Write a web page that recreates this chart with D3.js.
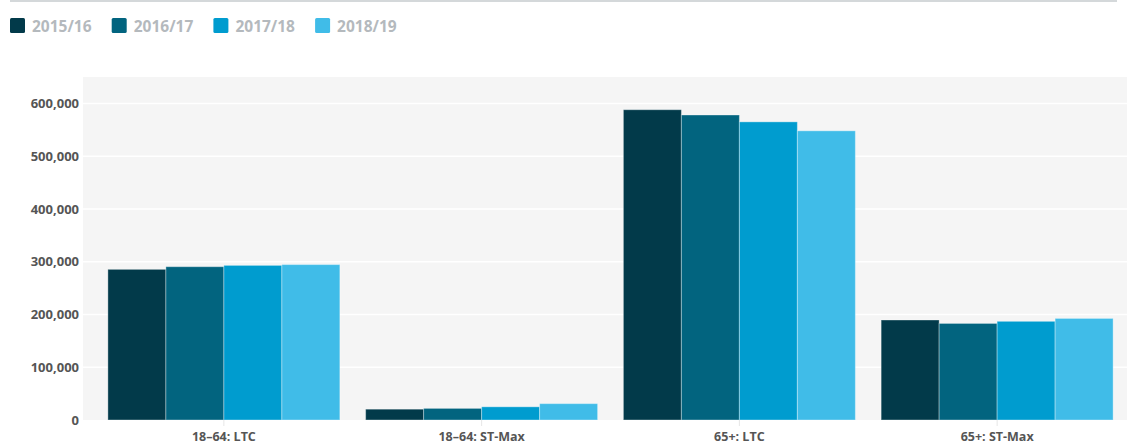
<!DOCTYPE html>
<html>
<head>
<meta charset="utf-8">
<script src="https://cdn.jsdelivr.net/npm/d3@7"></script>
<style>
  html, body { margin: 0; padding: 0; background: #fff; }
  svg { display: block; font-family: "Open Sans", sans-serif; }
</style>
</head>
<body>
<svg id="chart" width="1127" height="446"></svg>
<script>
const categories = ["18–64: LTC", "18–64: ST-Max", "65+: LTC", "65+: ST-Max"];
const seriesNames = ["2015/16", "2016/17", "2017/18", "2018/19"];
const colors = ["#023a4a", "#02647f", "#009ccf", "#40bce8"];
const v2015 = [285500, 20500, 588000, 189500];
const v2016 = [290500, 22000, 578000, 183000];
const v2017 = [293000, 25000, 565000, 187000];
const v2018 = [294500, 31000, 548000, 192500];
const yTicks = [0, 100000, 200000, 300000, 400000, 500000, 600000];

const seriesValues = [v2015, v2016, v2017, v2018];
const svg = d3.select("#chart");

const plotLeft = 83, plotRight = 1127, plotTop = 77, plotBottom = 420;

const x0 = d3.scaleBand().domain(categories).range([95, 1126]).paddingInner(0.1).paddingOuter(0.05);
const x1 = d3.scaleBand().domain(seriesNames).range([0, x0.bandwidth()]).padding(0);
const y = d3.scaleLinear().domain([0, 650000]).range([plotBottom, plotTop]);

// top rule
svg.append("line").attr("x1", 10).attr("x2", 1117).attr("y1", 1).attr("y2", 1)
  .attr("stroke", "#c6cbce").attr("stroke-width", 1.5);

// legend
const legend = svg.append("g");
seriesNames.forEach((s, i) => {
  const g = legend.append("g").attr("transform", `translate(${10 + i * 101.7},18)`);
  g.append("rect").attr("width", 15).attr("height", 15).attr("rx", 1.5).attr("fill", colors[i]);
  g.append("text").attr("x", 22).attr("y", 14).text(s)
    .attr("font-size", 15.5).attr("font-weight", 700).attr("fill", "#b4b9bd");
});

// plot background
svg.append("rect").attr("x", plotLeft).attr("y", plotTop)
  .attr("width", plotRight - plotLeft).attr("height", plotBottom - plotTop).attr("fill", "#f5f5f5");

// gridlines
svg.append("g").selectAll("line").data(yTicks.filter(d => d > 0)).join("line")
  .attr("x1", plotLeft).attr("x2", plotRight)
  .attr("y1", d => y(d)).attr("y2", d => y(d))
  .attr("stroke", "#ffffff").attr("stroke-width", 1.5);

// y axis
const yAxis = svg.append("g").attr("transform", `translate(${plotLeft},0)`)
  .call(d3.axisLeft(y).tickValues(yTicks).tickFormat(d3.format(",")).tickSize(0).tickPadding(4));
yAxis.select(".domain").remove();
yAxis.selectAll("text").attr("font-size", 13).attr("font-weight", 700).attr("fill", "#555")
  .attr("font-family", "'Open Sans', sans-serif");

// bars
const groups = svg.append("g").selectAll("g").data(categories).join("g")
  .attr("transform", d => `translate(${x0(d)},0)`);
groups.selectAll("rect").data((c, ci) => seriesNames.map((s, si) => ({ s, si, v: seriesValues[si][ci] })))
  .join("rect")
  .attr("x", d => x1(d.s))
  .attr("y", d => y(d.v))
  .attr("width", x1.bandwidth())
  .attr("height", d => y(0) - y(d.v))
  .attr("fill", d => colors[d.si])
  .attr("stroke", "rgba(255,255,255,0.35)")
  .attr("stroke-width", 1);

// x axis
const xAxis = svg.append("g").attr("transform", `translate(0,${plotBottom})`)
  .call(d3.axisBottom(x0).tickSize(6).tickPadding(6));
xAxis.select(".domain").remove();
xAxis.selectAll(".tick line").attr("stroke", "#e6e6e6");
xAxis.selectAll("text").attr("font-size", 12.5).attr("font-weight", 700).attr("fill", "#555")
  .attr("font-family", "'Open Sans', sans-serif");
</script>
</body>
</html>
